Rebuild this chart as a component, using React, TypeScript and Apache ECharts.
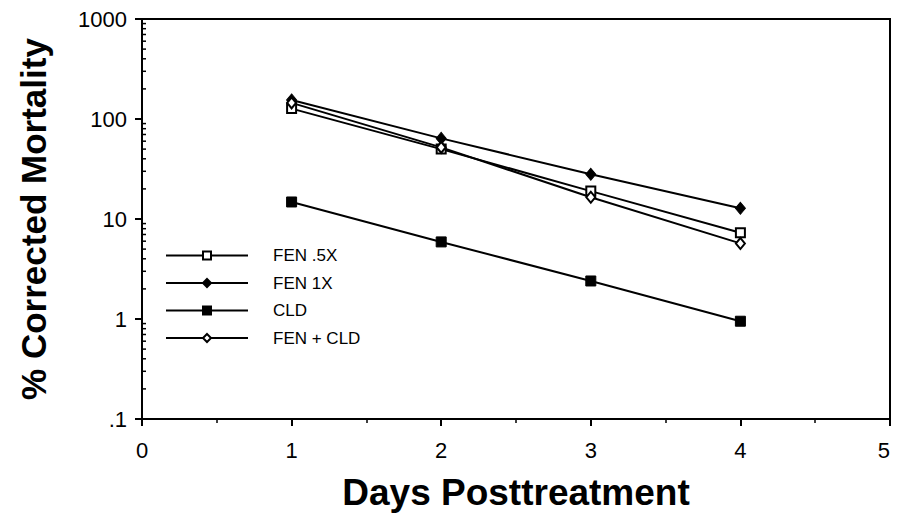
import React, { useEffect, useRef } from "react";
import * as echarts from "echarts";

const days = [1, 2, 3, 4];
const fenHalf = [127, 50, 19, 7.3];
const fen1x = [155, 64, 28, 12.8];
const cld = [14.8, 5.9, 2.4, 0.95];
const fenCld = [145, 52, 16.5, 5.7];
const seriesNames = ["FEN .5X", "FEN 1X", "CLD", "FEN + CLD"];
const yMinorTicks = [
  0.2, 0.3, 0.4, 0.5, 0.6, 0.7, 0.8, 0.9,
  2, 3, 4, 5, 6, 7, 8, 9,
  20, 30, 40, 50, 60, 70, 80, 90,
  200, 300, 400, 500, 600, 700, 800, 900,
];

const FONT = "'Liberation Sans', Arial, Helvetica, sans-serif";

export default function App() {
  const ref = useRef<HTMLDivElement>(null);
  useEffect(() => {
    if (!ref.current) return;
    const chart = echarts.init(ref.current, null, { renderer: "svg" });
    const pair = (arr: number[]) => days.map((d, i) => [d, arr[i]]);
    const lineBase = {
      type: "line",
      lineStyle: { color: "#000", width: 2 },
      symbolKeepAspect: true,
      z: 3,
    };
    chart.setOption({
      animation: false,
      backgroundColor: "#fff",
      grid: {
        left: 126,
        right: 11,
        top: 9,
        bottom: 93,
        show: true,
        borderColor: "#000",
        borderWidth: 2,
      },
      legend: {
        data: seriesNames,
        orient: "vertical",
        left: 157,
        top: 239,
        padding: 0,
        itemWidth: 82,
        itemHeight: 10,
        itemGap: 10.5,
        textStyle: {
          fontFamily: FONT,
          fontSize: 17,
          color: "#000",
          padding: [0, 0, 0, 20],
        },
      },
      xAxis: {
        type: "value",
        min: 0,
        max: 5,
        interval: 1,
        name: "Days Posttreatment",
        nameLocation: "middle",
        nameGap: 55,
        nameTextStyle: {
          fontFamily: FONT,
          fontSize: 37,
          fontWeight: "bold",
          color: "#000",
        },
        axisLine: { lineStyle: { color: "#000", width: 2 } },
        axisTick: { length: 7, lineStyle: { color: "#000", width: 2 } },
        minorTick: {
          show: true,
          splitNumber: 2,
          length: 4,
          lineStyle: { color: "#000", width: 1.5 },
        },
        splitLine: { show: false },
        axisLabel: {
          fontFamily: FONT,
          fontSize: 22,
          color: "#000",
          margin: 20,
          alignMaxLabel: "right",
        },
      },
      yAxis: {
        type: "log",
        logBase: 10,
        min: 0.1,
        max: 1000,
        name: "% Corrected Mortality",
        nameLocation: "middle",
        nameGap: 91,
        nameRotate: 90,
        nameTextStyle: {
          fontFamily: FONT,
          fontSize: 35,
          fontWeight: "bold",
          color: "#000",
        },
        axisLine: { lineStyle: { color: "#000", width: 2 } },
        axisTick: { length: 7, lineStyle: { color: "#000", width: 2 } },
        splitLine: { show: false },
        axisLabel: {
          fontFamily: FONT,
          fontSize: 22,
          color: "#000",
          margin: 15,
          formatter: (v: number) => (v < 0.5 ? ".1" : String(Math.round(v))),
        },
      },
      series: [
        {
          ...lineBase,
          name: seriesNames[0],
          data: pair(fenHalf),
          symbol: "rect",
          symbolSize: 9,
          itemStyle: { color: "#fff", borderColor: "#000", borderWidth: 2 },
        },
        {
          ...lineBase,
          name: seriesNames[1],
          data: pair(fen1x),
          symbol: "diamond",
          symbolSize: [10, 12],
          itemStyle: { color: "#000", borderColor: "#000", borderWidth: 1 },
        },
        {
          ...lineBase,
          name: seriesNames[2],
          data: pair(cld),
          symbol: "rect",
          symbolSize: 10,
          itemStyle: { color: "#000", borderColor: "#000", borderWidth: 1 },
        },
        {
          ...lineBase,
          name: seriesNames[3],
          data: pair(fenCld),
          symbol: "diamond",
          symbolSize: [9, 11],
          itemStyle: { color: "#fff", borderColor: "#000", borderWidth: 2 },
        },
        {
          type: "custom",
          name: "minorTicks",
          silent: true,
          clip: false,
          data: yMinorTicks.map((v) => [0, v]),
          renderItem: (_params: any, api: any) => {
            const p = api.coord([0, api.value(1)]);
            return {
              type: "line",
              shape: { x1: p[0] - 1, y1: p[1], x2: p[0] + 4, y2: p[1] },
              style: { stroke: "#000", lineWidth: 1.5 },
            };
          },
          z: 4,
        },
      ],
    });
    return () => chart.dispose();
  }, []);
  return <div ref={ref} style={{ width: 893, height: 508 }} />;
}
